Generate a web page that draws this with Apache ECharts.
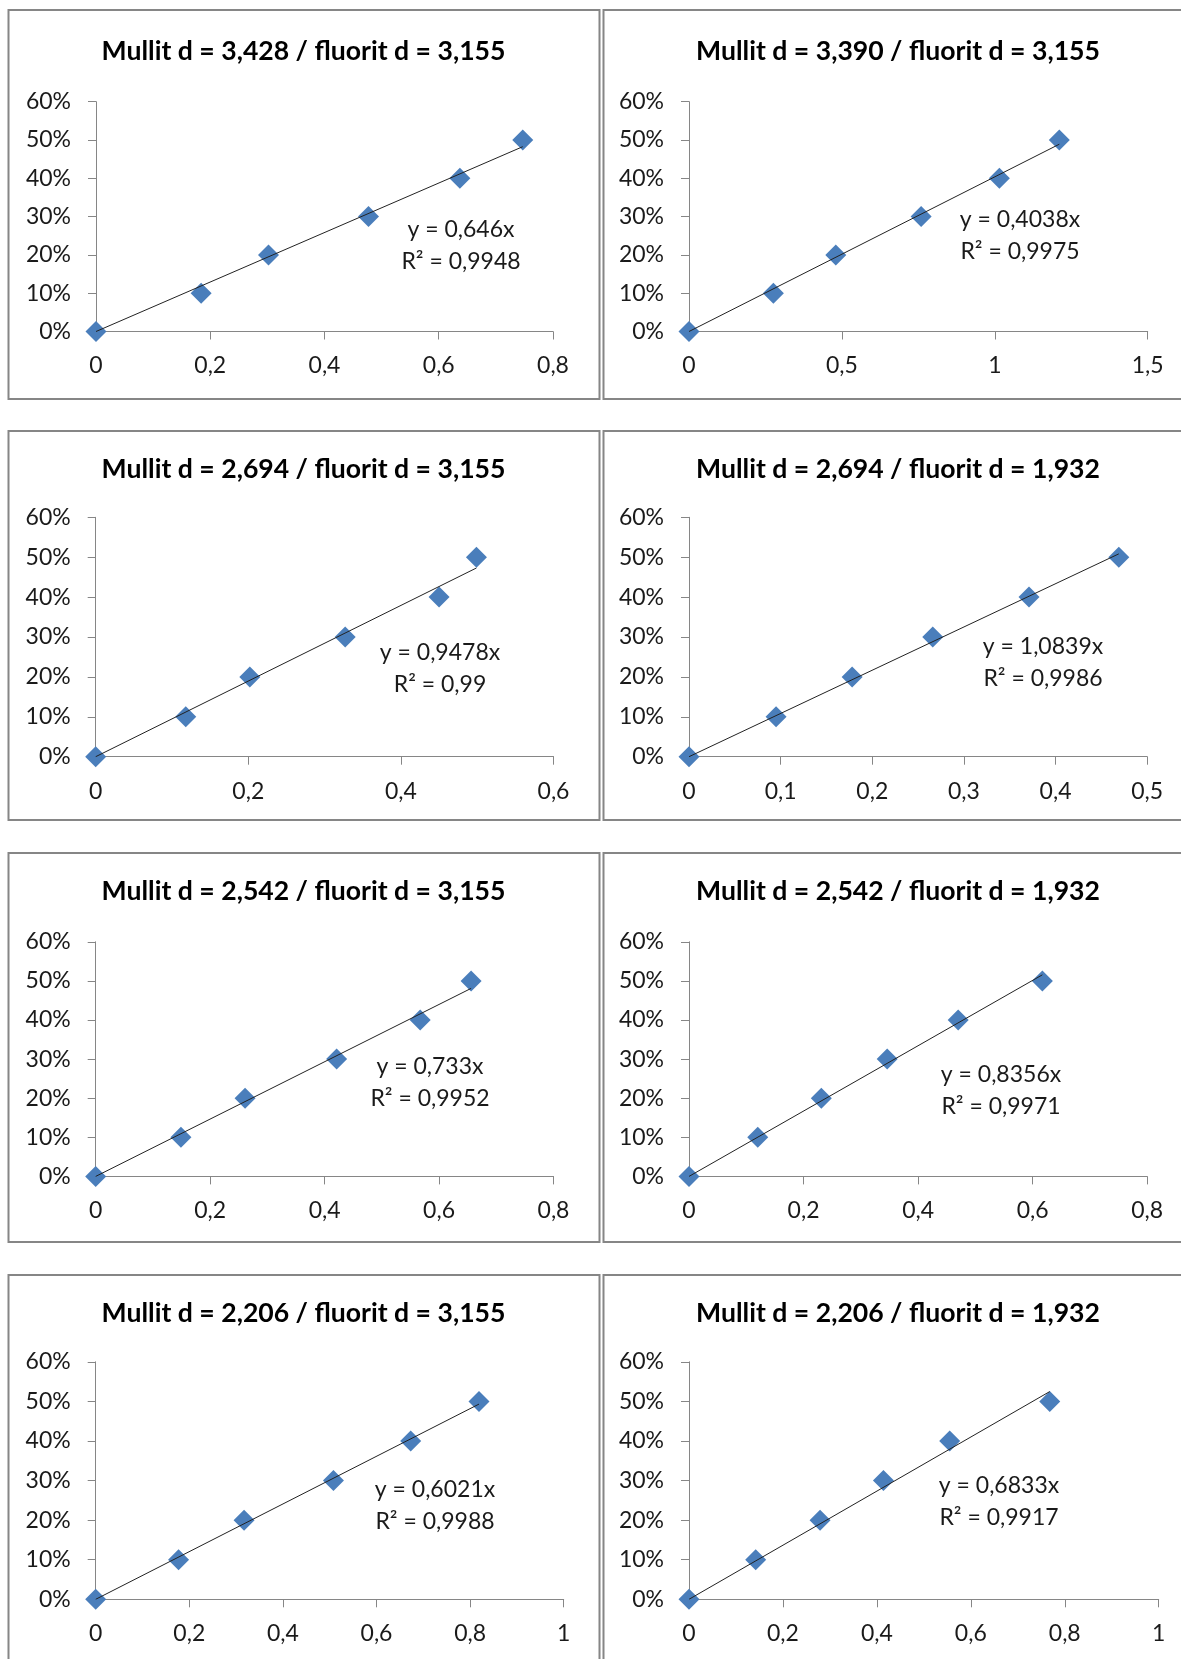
<!DOCTYPE html>
<html>
<head>
<meta charset="utf-8">
<script src="https://cdn.jsdelivr.net/npm/echarts@6/dist/echarts.min.js"></script>
<style>
  html, body { margin: 0; padding: 0; background: #ffffff; }
  #chart { width: 1181px; height: 1659px; }
</style>
</head>
<body>
<div id="chart"></div>
<script>
// ---- data ----
const titles = [
  'Mullit d = 3,428 / fluorit d = 3,155',
  'Mullit d = 3,390 / fluorit d = 3,155',
  'Mullit d = 2,694 / fluorit d = 3,155',
  'Mullit d = 2,694 / fluorit d = 1,932',
  'Mullit d = 2,542 / fluorit d = 3,155',
  'Mullit d = 2,542 / fluorit d = 1,932',
  'Mullit d = 2,206 / fluorit d = 3,155',
  'Mullit d = 2,206 / fluorit d = 1,932'
];
const yValues = [0, 0.1, 0.2, 0.3, 0.4, 0.5];
const xValues1 = [0, 0.184, 0.302, 0.477, 0.637, 0.747];
const xValues2 = [0, 0.276, 0.480, 0.759, 1.015, 1.211];
const xValues3 = [0, 0.118, 0.202, 0.327, 0.450, 0.499];
const xValues4 = [0, 0.095, 0.178, 0.266, 0.371, 0.469];
const xValues5 = [0, 0.149, 0.261, 0.421, 0.567, 0.656];
const xValues6 = [0, 0.120, 0.231, 0.346, 0.470, 0.617];
const xValues7 = [0, 0.177, 0.317, 0.508, 0.673, 0.819];
const xValues8 = [0, 0.142, 0.279, 0.414, 0.555, 0.768];
const slopes = [0.646, 0.4038, 0.9478, 1.0839, 0.733, 0.8356, 0.6021, 0.6833];
const slopeLabels = ['0,646', '0,4038', '0,9478', '1,0839', '0,733', '0,8356', '0,6021', '0,6833'];
const r2Labels = ['0,9948', '0,9975', '0,99', '0,9986', '0,9952', '0,9971', '0,9988', '0,9917'];
const xMax = [0.8, 1.5, 0.6, 0.5, 0.8, 0.8, 1, 1];
const xStep = [0.2, 0.5, 0.2, 0.1, 0.2, 0.2, 0.2, 0.2];
const yMax = 0.6;
const yStep = 0.1;

// ---- layout (pixels) ----
const xSets = [xValues1, xValues2, xValues3, xValues4, xValues5, xValues6, xValues7, xValues8];
const gridBoxes = [
  [96, 101.7, 457, 229.8],
  [689, 101.7, 458.7, 229.8],
  [95.7, 517.3, 457.8, 239.4],
  [689, 517.3, 458.2, 239.4],
  [95.7, 941.8, 457.8, 234.6],
  [689, 941.8, 458.2, 234.6],
  [95.7, 1361.8, 468, 237.5],
  [689, 1361.8, 469.7, 237.5]
];
const titlePos = [[303.5, 51.7], [898, 51.7], [303.5, 469.5], [898, 469.5],
                  [303.5, 891.7], [898, 891.7], [303.5, 1313.3], [898, 1313.3]];
const eqPos = [[461, 230], [1020, 220], [440, 653], [1043, 646.7],
               [430, 1066.7], [1001, 1075], [435, 1490], [999, 1486]];
const borderRects = [
  [8.5, 10, 591, 389], [603.5, 10, 620, 389],
  [8.5, 431, 591, 389], [603.5, 431, 620, 389],
  [8.5, 853, 591, 389], [603.5, 853, 620, 389],
  [8.5, 1275, 591, 400], [603.5, 1275, 620, 400]
];

const FONT = 'Lato, "Open Sans", sans-serif';
const AXIS_COLOR = '#868686';
const TEXT_COLOR = '#1a1a1a';
const LABEL_SIZE = 23;

const grids = [], xAxes = [], yAxes = [], series = [], titleOpts = [], graphics = [];

for (let i = 0; i < 8; i++) {
  const [l, t, w, h] = gridBoxes[i];
  grids.push({ left: l, top: t, width: w, height: h, containLabel: false });
  xAxes.push({
    type: 'value', gridIndex: i, min: 0, max: xMax[i], interval: xStep[i],
    axisLine: { show: true, onZero: false, lineStyle: { color: AXIS_COLOR, width: 1 } },
    axisTick: { show: true, length: 8, lineStyle: { color: AXIS_COLOR, width: 1 } },
    splitLine: { show: false },
    axisLabel: {
      margin: 23, color: TEXT_COLOR, fontFamily: FONT, fontSize: LABEL_SIZE,
      formatter: v => String(+(+v).toFixed(3)).replace('.', ',')
    }
  });
  yAxes.push({
    type: 'value', gridIndex: i, min: 0, max: yMax, interval: yStep,
    axisLine: { show: true, onZero: false, lineStyle: { color: AXIS_COLOR, width: 1 } },
    axisTick: { show: true, length: 8, lineStyle: { color: AXIS_COLOR, width: 1 } },
    splitLine: { show: false },
    axisLabel: {
      margin: 25, color: TEXT_COLOR, fontFamily: FONT, fontSize: LABEL_SIZE,
      formatter: v => Math.round(v * 100) + '%'
    }
  });
  const xs = xSets[i];
  series.push({
    type: 'scatter', xAxisIndex: i, yAxisIndex: i,
    data: xs.map((x, k) => [x, yValues[k]]),
    symbol: 'diamond', symbolSize: 21,
    itemStyle: { color: '#4A7EBB', opacity: 1 },
    z: 2
  });
  const xLast = xs[xs.length - 1];
  series.push({
    type: 'line', xAxisIndex: i, yAxisIndex: i,
    data: [[0, 0], [xLast, slopes[i] * xLast]],
    symbol: 'none', lineStyle: { color: '#222', width: 1 },
    z: 3, silent: true
  });
  titleOpts.push({
    text: titles[i], left: titlePos[i][0], top: titlePos[i][1],
    textAlign: 'center', textVerticalAlign: 'middle', padding: 0,
    textStyle: { fontFamily: FONT, fontWeight: 'bold', fontSize: 26.6, color: '#000' }
  });
  graphics.push({
    type: 'text', x: eqPos[i][0], y: eqPos[i][1], z: 10,
    style: { text: 'y = ' + slopeLabels[i] + 'x', font: LABEL_SIZE + 'px ' + FONT, fill: TEXT_COLOR,
             align: 'center', verticalAlign: 'middle', textAlign: 'center', textVerticalAlign: 'middle' }
  });
  graphics.push({
    type: 'text', x: eqPos[i][0], y: eqPos[i][1] + 31.5, z: 10,
    style: { text: 'R² = ' + r2Labels[i], font: LABEL_SIZE + 'px ' + FONT, fill: TEXT_COLOR,
             align: 'center', verticalAlign: 'middle', textAlign: 'center', textVerticalAlign: 'middle' }
  });
  const [bx, by, bw, bh] = borderRects[i];
  graphics.push({
    type: 'rect', z: 0, shape: { x: bx, y: by, width: bw, height: bh },
    style: { fill: 'none', stroke: AXIS_COLOR, lineWidth: 2 }
  });
}

const chart = echarts.init(document.getElementById('chart'), null, { renderer: 'canvas' });
chart.setOption({
  animation: false,
  backgroundColor: '#ffffff',
  title: titleOpts,
  grid: grids,
  xAxis: xAxes,
  yAxis: yAxes,
  series: series,
  graphic: graphics
});
</script>
</body>
</html>
